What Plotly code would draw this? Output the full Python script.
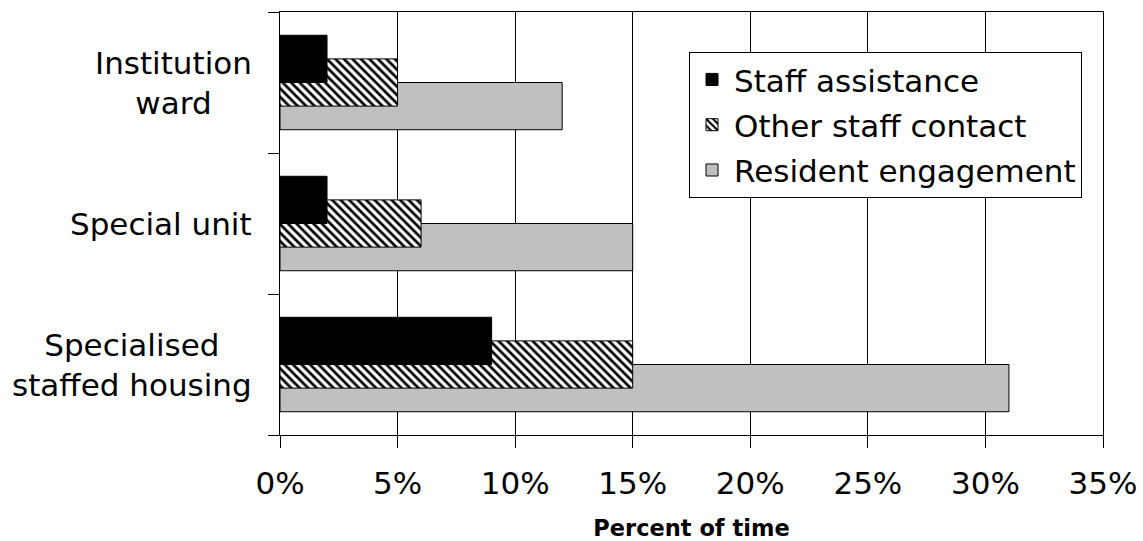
import plotly.graph_objects as go

# Settings, listed bottom-to-top on the category axis
categories = ["Specialised staffed housing", "Special unit", "Institution ward"]
category_labels = ["Specialised<br>staffed housing", "Special unit", "Institution<br>ward"]

# Percent of time per setting
staff_assistance = [9, 2, 2]
other_staff_contact = [15, 6, 5]
resident_engagement = [31, 15, 12]

x_ticks = [0, 5, 10, 15, 20, 25, 30, 35]

FONT = "DejaVu Sans, Verdana, sans-serif"
BAR_W = 0.335
outline = dict(color="#000000", width=1)

fig = go.Figure()

# Drawn back-to-front: grey first, black on top; legend order set by legendrank
fig.add_trace(go.Bar(
    name="Resident engagement", y=categories, x=resident_engagement,
    orientation="h", width=BAR_W, offset=-BAR_W,
    marker=dict(color="#C0C0C0", line=outline),
    legendrank=3, legendgroup="c",
))
fig.add_trace(go.Bar(
    name="Other staff contact", y=categories, x=other_staff_contact,
    orientation="h", width=BAR_W, offset=-BAR_W / 2,
    marker=dict(color="#FFFFFF", line=outline,
                pattern=dict(shape="\\", fgcolor="#000000", bgcolor="#FFFFFF",
                             size=6, solidity=0.45, fillmode="replace")),
    legendrank=2, legendgroup="b",
))
fig.add_trace(go.Bar(
    name="Staff assistance", y=categories, x=staff_assistance,
    orientation="h", width=BAR_W, offset=0,
    marker=dict(color="#000000", line=outline),
    legendrank=1, legendgroup="a",
))

# Category labels, centred line-by-line to the left of the axis
for cat, lab in zip(categories, category_labels):
    fig.add_annotation(
        x=0, xref="paper", y=cat, yref="y", text=lab, showarrow=False,
        xanchor="right", yanchor="middle", align="center", xshift=-26,
        font=dict(family=FONT, size=31, color="#000000"),
    )

fig.update_layout(
    width=1143, height=541,
    margin=dict(l=280, r=40, t=12, b=106, autoexpand=False),
    paper_bgcolor="#FFFFFF", plot_bgcolor="#FFFFFF",
    barmode="overlay",
    font=dict(family=FONT, size=31, color="#000000"),
    legend=dict(
        x=0.497, y=0.906, xanchor="left", yanchor="top",
        bgcolor="#FFFFFF", bordercolor="#000000", borderwidth=1,
        font=dict(family=FONT, size=31, color="#000000"),
        traceorder="grouped", tracegroupgap=2, itemwidth=34,
    ),
    showlegend=True,
)

fig.update_xaxes(
    range=[0, 35], tickvals=x_ticks, ticktext=[f"{v}%" for v in x_ticks],
    automargin=False,
    showgrid=True, gridcolor="#000000", gridwidth=1,
    showline=True, linecolor="#000000", linewidth=1, mirror=True,
    ticks="outside", ticklen=12, tickcolor="#000000", tickwidth=1,
    tickfont=dict(family=FONT, size=31, color="#000000"),
    ticklabelstandoff=9,
    zeroline=False,
    title=dict(text="Percent of time", standoff=20,
               font=dict(family=FONT, size=22.5, color="#000000", weight="bold")),
)

fig.update_yaxes(
    type="category", categoryorder="array", categoryarray=categories,
    range=[-0.5, 2.5], tickson="boundaries", automargin=False,
    showticklabels=False, showgrid=False,
    showline=True, linecolor="#000000", linewidth=1, mirror=True,
    ticks="outside", ticklen=11, tickcolor="#000000", tickwidth=1,
)

fig.write_html("out.html")
